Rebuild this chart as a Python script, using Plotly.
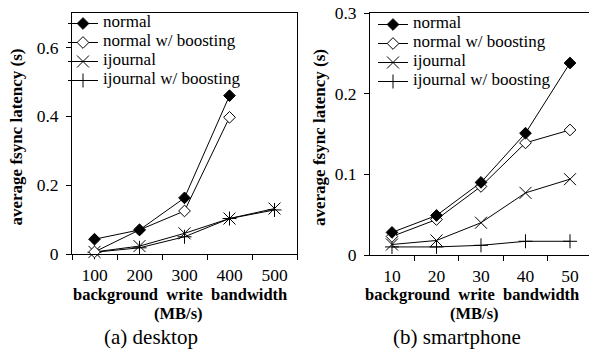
import plotly.graph_objects as go

# ---- data ----
desk_cats = ["100", "200", "300", "400", "500"]
desk_normal = [0.043, 0.070, 0.163, 0.460, None]
desk_normal_boost = [0.006, 0.070, 0.125, 0.397, None]
desk_ijournal = [0.006, 0.023, 0.060, 0.103, 0.132]
desk_ijournal_boost = [0.005, 0.018, 0.050, 0.103, 0.128]

phone_cats = ["10", "20", "30", "40", "50"]
phone_normal = [0.028, 0.049, 0.090, 0.151, 0.238]
phone_normal_boost = [0.023, 0.044, 0.085, 0.139, 0.155]
phone_ijournal = [0.013, 0.018, 0.040, 0.077, 0.094]
phone_ijournal_boost = [0.010, 0.010, 0.012, 0.017, 0.017]

series_names = ["normal", "normal w/ boosting", "ijournal", "ijournal w/ boosting"]
desk_tick_vals = [0, 0.2, 0.4, 0.6]
phone_tick_vals = [0, 0.1, 0.2, 0.3]

W, H = 589, 356
FONT = "Liberation Serif, Tinos, Times New Roman, serif"

styles = [
    dict(symbol="diamond", size=9, color="black", line=dict(color="black", width=1)),
    dict(symbol="diamond", size=9, color="white", line=dict(color="black", width=1)),
    dict(symbol="x-thin-open", size=12, color="black", line=dict(color="black", width=1)),
    dict(symbol="cross-thin-open", size=10, color="black", line=dict(color="black", width=1)),
]

fig = go.Figure()
desk_series = [desk_normal, desk_normal_boost, desk_ijournal, desk_ijournal_boost]
phone_series = [phone_normal, phone_normal_boost, phone_ijournal, phone_ijournal_boost]
draw_order = [3, 2, 1, 0]
for i in draw_order:
    fig.add_trace(go.Scatter(
        x=desk_cats, y=desk_series[i],
        name='<span style="font-size:17px">' + series_names[i] + '</span>',
        mode="lines+markers",
        line=dict(color="black", width=1), marker=styles[i],
        xaxis="x", yaxis="y", legend="legend", legendrank=i, cliponaxis=False))
for i in draw_order:
    fig.add_trace(go.Scatter(
        x=phone_cats, y=phone_series[i],
        name='<span style="font-size:17px">' + series_names[i] + '</span>',
        mode="lines+markers",
        line=dict(color="black", width=1), marker=styles[i],
        xaxis="x2", yaxis="y2", legend="legend2", legendrank=i, cliponaxis=False))

def px_x(p):
    return p / W

def px_y(p):
    return 1 - p / H

axis_common = dict(showline=True, linecolor="black", linewidth=1, mirror=True,
                   ticks="outside", ticklen=5, tickcolor="black", showgrid=False,
                   zeroline=False, automargin=False, ticklabeloverflow="allow",
                   tickfont=dict(family=FONT, size=17.5, color="black"))

fig.update_layout(
    xaxis=dict(domain=[px_x(72), px_x(297)], type="category", tickson="boundaries",
               range=[-0.5, 4.5], anchor="y", ticklabelstandoff=5, **axis_common),
    yaxis=dict(domain=[px_y(254), px_y(13)], range=[0, 0.7], tickvals=desk_tick_vals,
               anchor="x", ticklabelstandoff=4, **axis_common),
    xaxis2=dict(domain=[px_x(370), 1.0], type="category", tickson="boundaries",
                range=[-0.494, 4.427], anchor="y2", ticklabelstandoff=5, **axis_common),
    yaxis2=dict(domain=[px_y(255), px_y(13)], range=[0, 0.3], tickvals=phone_tick_vals,
                anchor="x2", ticklabelstandoff=4, **axis_common),
)

legend_common = dict(font=dict(family=FONT, size=9, color="black"), bgcolor="rgba(0,0,0,0)",
                     borderwidth=0, xanchor="left", yanchor="top", traceorder="normal",
                     itemwidth=30, tracegroupgap=0)
fig.update_layout(
    legend=dict(x=px_x(63), y=px_y(9), **legend_common),
    legend2=dict(x=px_x(373), y=px_y(10), **legend_common),
)

ann = []
title_font = dict(family=FONT, size=16.5, color="black")
for cx, cy in [(15.5, 137), (320, 138)]:
    ann.append(dict(text="<b>average fsync latency (s)</b>", x=px_x(cx), y=px_y(cy),
                    xref="paper", yref="paper", showarrow=False, textangle=-90,
                    font=dict(family=FONT, size=17, color="black"),
                    xanchor="center", yanchor="middle"))
for cx, cx2 in [(180, 178), (472, 475)]:
    ann.append(dict(text="<b>background\u00a0\u00a0write\u00a0\u00a0bandwidth</b>", x=px_x(cx), y=px_y(294),
                    xref="paper", yref="paper", showarrow=False, font=title_font,
                    xanchor="center", yanchor="middle"))
    ann.append(dict(text="<b>(MB/s)</b>", x=px_x(cx2), y=px_y(313),
                    xref="paper", yref="paper", showarrow=False, font=title_font,
                    xanchor="center", yanchor="middle"))
cap_font = dict(family=FONT, size=21, color="black")
ann.append(dict(text="(a) desktop", x=px_x(151), y=px_y(337), xref="paper", yref="paper",
                showarrow=False, font=cap_font, xanchor="center", yanchor="middle"))
ann.append(dict(text="(b) smartphone", x=px_x(457), y=px_y(337), xref="paper", yref="paper",
                showarrow=False, font=cap_font, xanchor="center", yanchor="middle"))

fig.update_layout(
    width=W, height=H, autosize=False,
    margin=dict(l=0, r=0, t=0, b=0, pad=0, autoexpand=False),
    paper_bgcolor="white", plot_bgcolor="white", annotations=ann, showlegend=True,
    font=dict(family=FONT, color="black"),
)

fig.write_html("out.html", config={"displayModeBar": False},
               post_script="document.body.style.margin='0px';")
